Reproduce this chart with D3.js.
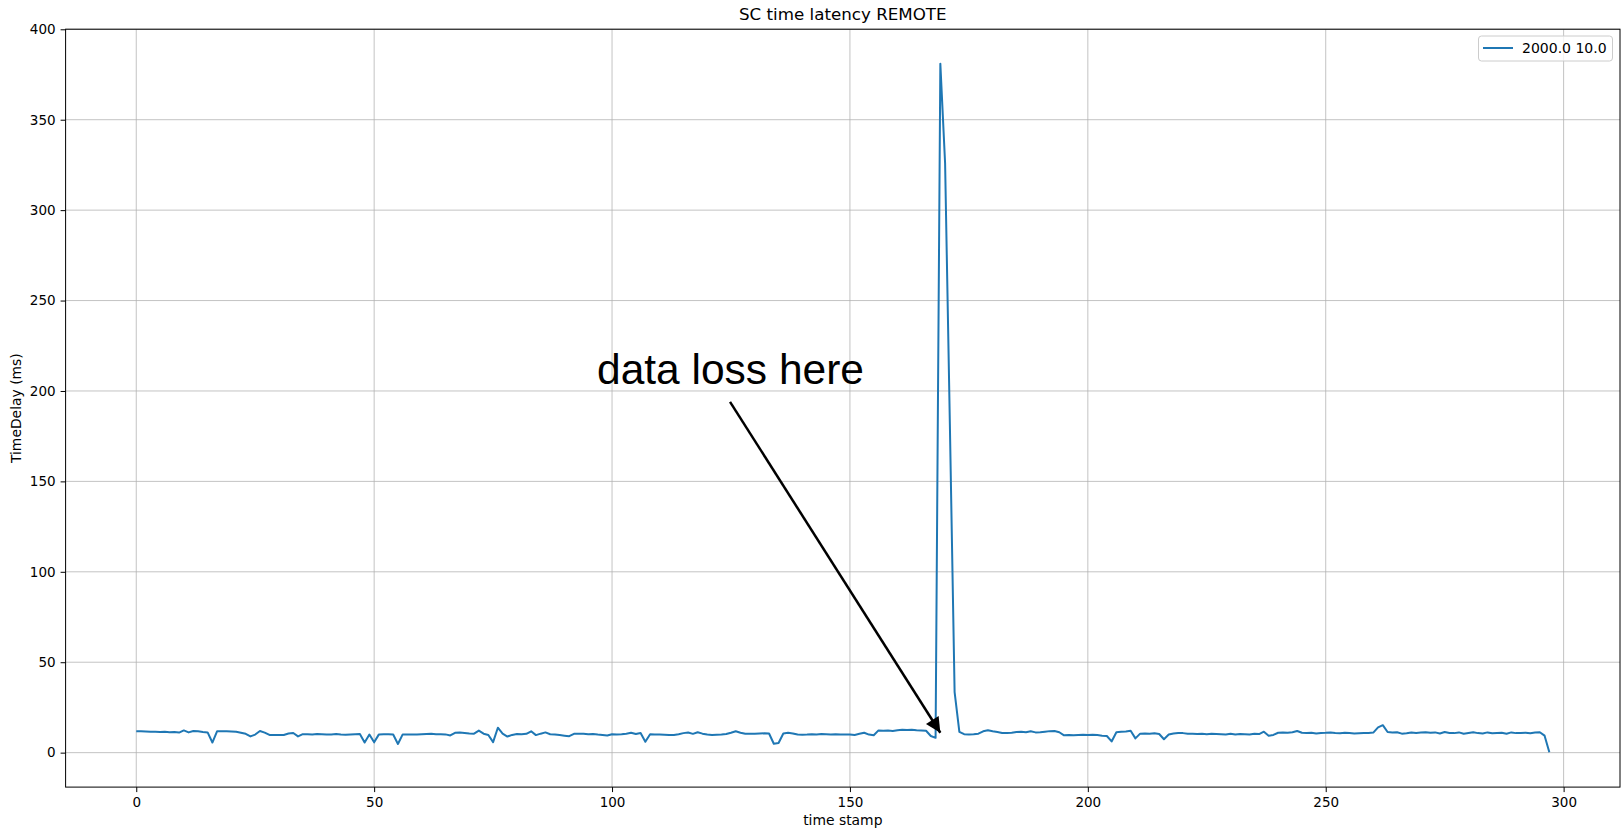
<!DOCTYPE html>
<html>
<head>
<meta charset="utf-8">
<script src="https://cdn.jsdelivr.net/npm/d3@7"></script>
<style>
  html, body { margin: 0; padding: 0; background: #fff; }
  svg { display: block; }
  .tick text { font-family: "DejaVu Sans", sans-serif; font-size: 13.5px; fill: #000; }
</style>
</head>
<body>
<svg id="chart" width="1624" height="833"></svg>
<script>
// Time delay per time stamp (ms)
const timeDelay = [
  11.9, 11.8, 11.7, 11.6, 11.5, 11.4, 11.5, 11.3, 11.4, 11.1,
  12.3, 11.2, 12.0, 11.8, 11.4, 11.2, 5.6, 11.9, 11.8, 11.8,
  11.7, 11.6, 11.0, 10.4, 9.0, 10.0, 12.0, 11.1, 9.8, 9.7,
  9.7, 9.8, 10.6, 10.9, 9.0, 10.2, 10.2, 10.0, 10.3, 10.2,
  10.0, 10.1, 10.3, 10.0, 9.9, 10.1, 10.2, 10.3, 5.6, 10.0,
  5.7, 10.1, 10.2, 10.2, 10.0, 4.8, 10.1, 10.0, 10.0, 10.1,
  10.2, 10.3, 10.4, 10.2, 10.2, 10.1, 9.5, 11.0, 11.2, 10.9,
  10.6, 10.5, 12.2, 10.5, 9.8, 5.8, 13.8, 10.5, 8.9, 9.8,
  10.3, 10.2, 10.4, 11.8, 9.7, 10.5, 11.2, 10.2, 10.0, 9.7,
  9.4, 9.1, 10.4, 10.5, 10.5, 10.2, 10.3, 10.0, 9.8, 9.5,
  10.2, 10.0, 10.2, 10.5, 11.0, 10.3, 10.9, 6.0, 10.2, 10.1,
  10.0, 9.9, 9.7, 9.8, 10.2, 10.8, 11.1, 10.4, 11.3, 10.5,
  10.0, 9.8, 9.9, 10.0, 10.3, 11.0, 11.8, 11.0, 10.5, 10.4,
  10.5, 10.6, 10.7, 10.6, 4.9, 5.3, 10.6, 11.0, 10.6, 10.0,
  9.9, 10.0, 10.2, 10.1, 10.3, 10.2, 10.0, 10.2, 10.1, 10.0,
  10.1, 9.8, 10.4, 11.0, 10.0, 9.6, 12.3, 12.1, 12.2, 12.0,
  12.4, 12.7, 12.5, 12.7, 12.4, 12.3, 12.1, 9.2, 8.2, 381.0,
  326.0, 182.0, 33.5, 11.5, 10.2, 10.0, 10.2, 10.5, 11.8, 12.4,
  11.8, 11.4, 10.9, 10.8, 11.0, 11.4, 11.6, 11.3, 11.8, 11.2,
  11.3, 11.6, 11.9, 12.0, 11.3, 9.6, 9.7, 9.6, 9.8, 9.9,
  9.8, 9.9, 9.7, 9.4, 9.2, 6.2, 11.3, 11.5, 11.7, 12.1,
  7.9, 10.5, 10.6, 10.5, 10.7, 10.3, 7.4, 10.0, 10.6, 10.9,
  10.8, 10.5, 10.4, 10.3, 10.4, 10.2, 10.4, 10.3, 10.2, 10.1,
  10.4, 10.0, 10.3, 10.2, 10.1, 10.4, 10.3, 11.6, 9.4, 9.8,
  11.0, 11.2, 11.0, 11.3, 12.0, 11.0, 10.8, 11.0, 10.6, 10.9,
  11.0, 11.2, 10.9, 10.7, 11.0, 10.8, 10.6, 10.7, 10.8, 10.9,
  11.1, 14.0, 15.2, 11.4, 11.2, 11.3, 10.5, 10.7, 11.2, 10.9,
  11.1, 11.3, 11.0, 11.2, 10.6, 11.4, 10.9, 10.8, 11.2, 10.5,
  10.9, 11.3, 10.8, 10.6, 11.2, 10.7, 10.9, 11.0, 10.5, 11.2,
  10.8, 10.9, 11.0, 10.7, 11.1, 11.3, 9.4, 0.2
];
const timeStamps = timeDelay.map((_, i) => i);

const xTicks = [0, 50, 100, 150, 200, 250, 300];
const yTicks = [0, 50, 100, 150, 200, 250, 300, 350, 400];

const titleText = "SC time latency REMOTE";
const xLabel = "time stamp";
const yLabel = "TimeDelay (ms)";
const seriesName = "2000.0 10.0";

// Annotation: text anchor and arrow in data coordinates
const noteText = "data loss here";
const noteTextAt = [124.9, 204];
const noteArrowFrom = [124.8, 194];
const noteArrowTo = [169, 11];

const svg = d3.select("#chart");
const plotLeft = 65.6, plotRight = 1620, plotTop = 29.2, plotBottom = 787.1;

const x = d3.scaleLinear().domain([-14.85, 311.85]).range([plotLeft, plotRight]);
const y = d3.scaleLinear().domain([-19.05, 400.05]).range([plotBottom, plotTop]);

const defs = svg.append("defs");
defs.append("clipPath").attr("id", "plotClip")
  .append("rect").attr("x", plotLeft).attr("y", plotTop)
  .attr("width", plotRight - plotLeft).attr("height", plotBottom - plotTop);

// Grid
const grid = svg.append("g");
grid.selectAll("line.vx").data(xTicks).join("line")
  .attr("x1", d => x(d)).attr("x2", d => x(d))
  .attr("y1", plotTop).attr("y2", plotBottom)
  .attr("stroke", "#b0b0b0").attr("stroke-width", 1).attr("opacity", 0.75);
grid.selectAll("line.hy").data(yTicks).join("line")
  .attr("x1", plotLeft).attr("x2", plotRight)
  .attr("y1", d => y(d)).attr("y2", d => y(d))
  .attr("stroke", "#b0b0b0").attr("stroke-width", 1).attr("opacity", 0.75);

// Series line
const line = d3.line().x((d, i) => x(timeStamps[i])).y(d => y(d));
svg.append("path")
  .datum(timeDelay)
  .attr("clip-path", "url(#plotClip)")
  .attr("fill", "none")
  .attr("stroke", "#1f77b4")
  .attr("stroke-width", 2)
  .attr("stroke-linejoin", "round")
  .attr("d", line);

// Axes
const xAxis = d3.axisBottom(x).tickValues(xTicks).tickSize(5).tickPadding(5).tickFormat(d3.format("d"));
const yAxis = d3.axisLeft(y).tickValues(yTicks).tickSize(5).tickPadding(5).tickFormat(d3.format("d"));

const gx = svg.append("g").attr("transform", `translate(0,${plotBottom})`).call(xAxis);
const gy = svg.append("g").attr("transform", `translate(${plotLeft},0)`).call(yAxis);
[gx, gy].forEach(g => {
  g.select(".domain").remove();
  g.selectAll(".tick line").attr("stroke", "#000").attr("stroke-width", 1);
});

// Frame
svg.append("rect")
  .attr("x", plotLeft).attr("y", plotTop)
  .attr("width", plotRight - plotLeft).attr("height", plotBottom - plotTop)
  .attr("fill", "none").attr("stroke", "#000").attr("stroke-width", 1);

// Title and axis labels
svg.append("text")
  .attr("x", (plotLeft + plotRight) / 2).attr("y", 20)
  .attr("text-anchor", "middle")
  .style("font-family", "DejaVu Sans, sans-serif").style("font-size", "16.7px")
  .text(titleText);

svg.append("text")
  .attr("x", (plotLeft + plotRight) / 2).attr("y", 825)
  .attr("text-anchor", "middle")
  .style("font-family", "DejaVu Sans, sans-serif").style("font-size", "13.9px")
  .text(xLabel);

svg.append("text")
  .attr("transform", `translate(21,${(plotTop + plotBottom) / 2}) rotate(-90)`)
  .attr("text-anchor", "middle")
  .style("font-family", "DejaVu Sans, sans-serif").style("font-size", "13.9px")
  .text(yLabel);

// Legend
const lg = svg.append("g");
lg.append("rect")
  .attr("x", 1478.5).attr("y", 36).attr("width", 134).attr("height", 25)
  .attr("rx", 3).attr("fill", "#fff").attr("fill-opacity", 0.8)
  .attr("stroke", "#cccccc").attr("stroke-width", 1);
lg.append("line")
  .attr("x1", 1483).attr("x2", 1513).attr("y1", 48).attr("y2", 48)
  .attr("stroke", "#1f77b4").attr("stroke-width", 2);
lg.append("text")
  .attr("x", 1522).attr("y", 53)
  .style("font-family", "DejaVu Sans, sans-serif").style("font-size", "14px")
  .text(seriesName);

// Annotation
defs.append("marker")
  .attr("id", "arrowHead")
  .attr("viewBox", "0 0 10 10")
  .attr("refX", 10).attr("refY", 5)
  .attr("markerWidth", 7.5).attr("markerHeight", 6)
  .attr("markerUnits", "strokeWidth")
  .attr("orient", "auto")
  .append("path").attr("d", "M0,0 L10,5 L0,10 z").attr("fill", "#000");

svg.append("line")
  .attr("x1", x(noteArrowFrom[0])).attr("y1", y(noteArrowFrom[1]))
  .attr("x2", x(noteArrowTo[0])).attr("y2", y(noteArrowTo[1]))
  .attr("stroke", "#000").attr("stroke-width", 2.5)
  .attr("marker-end", "url(#arrowHead)");

svg.append("text")
  .attr("x", x(noteTextAt[0])).attr("y", y(noteTextAt[1]))
  .attr("text-anchor", "middle")
  .style("font-family", "Liberation Sans, Arial, sans-serif").style("font-size", "42.5px")
  .attr("fill", "#000")
  .text(noteText);
</script>
</body>
</html>
